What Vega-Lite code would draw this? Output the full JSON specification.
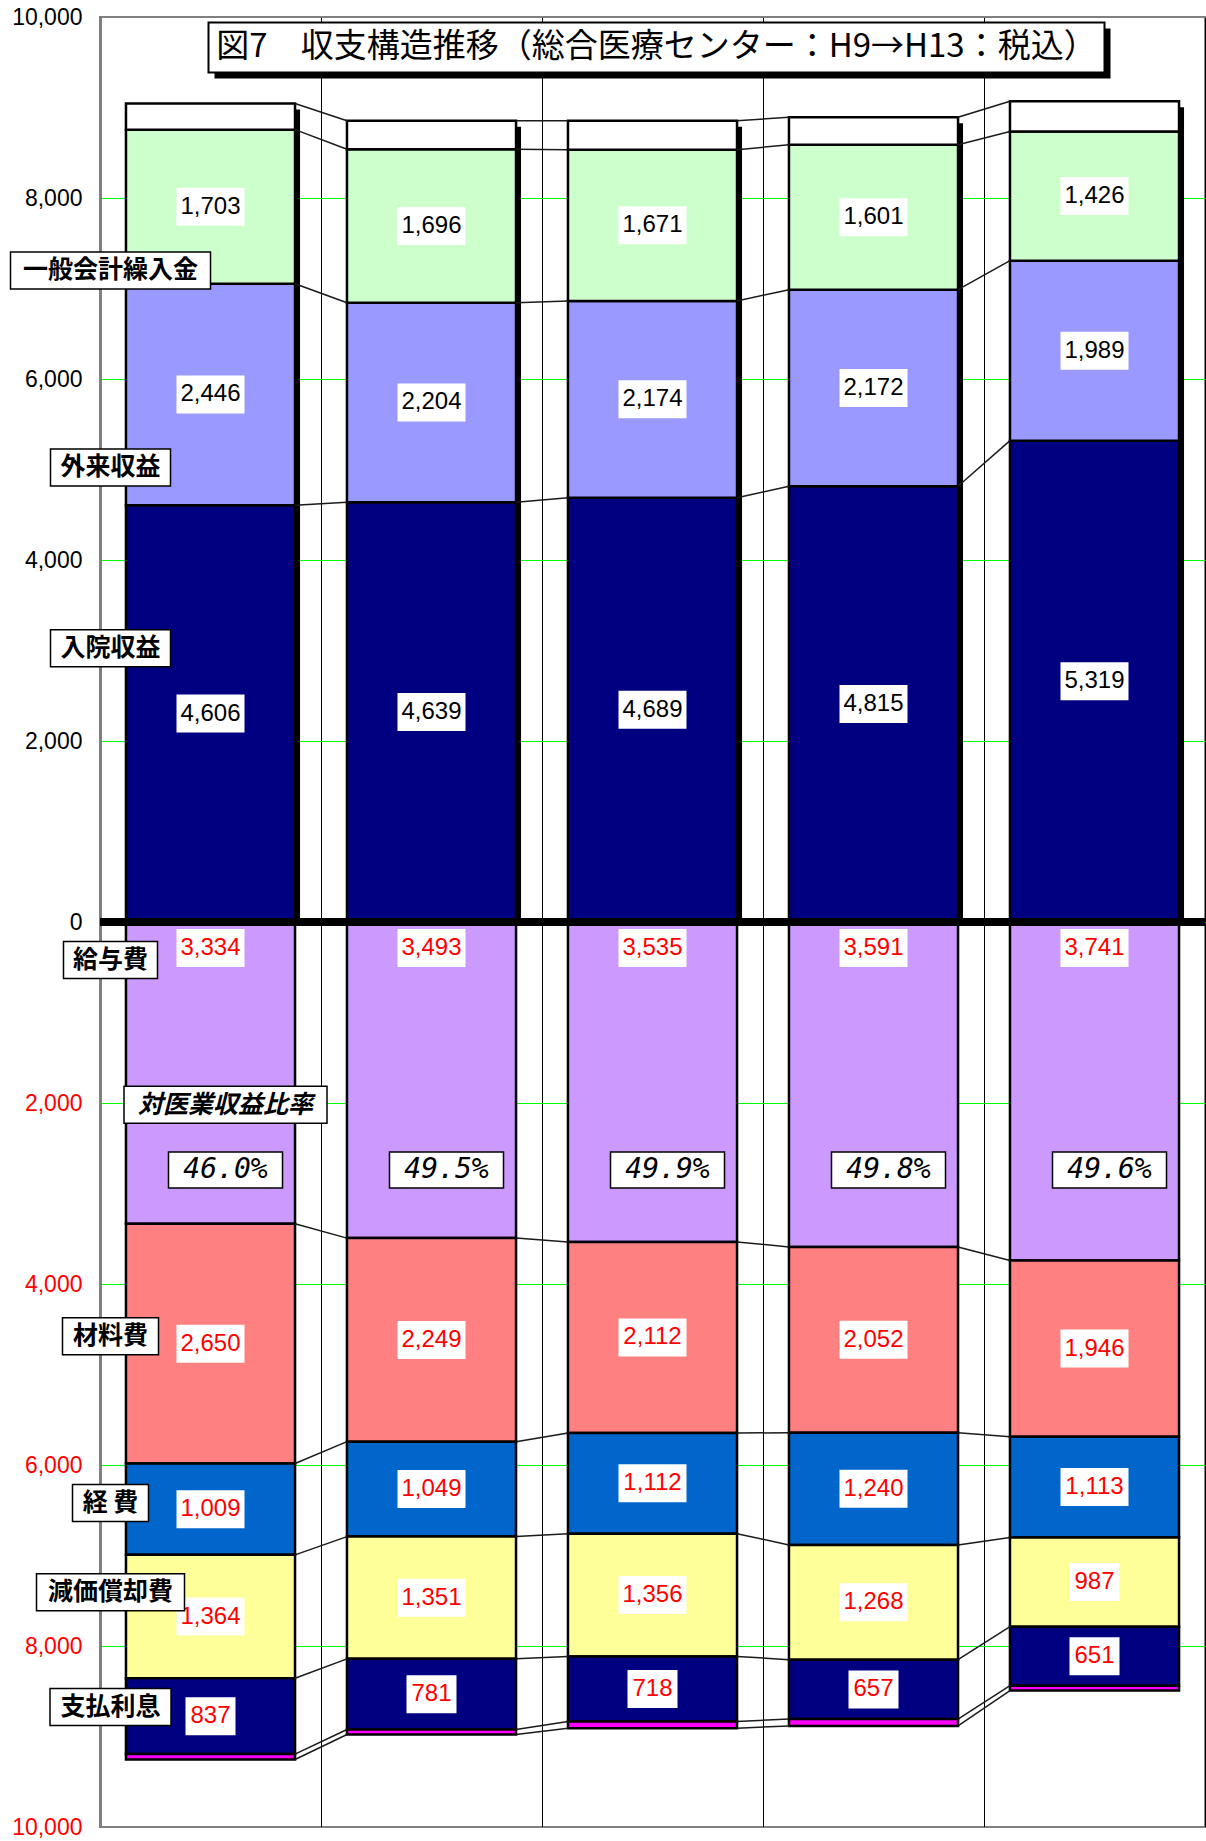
{
  "$schema": "https://vega.github.io/schema/vega-lite/v6.json",
  "width": 1105,
  "height": 1810,
  "autosize": {"type": "none"},
  "padding": {"left": 100, "top": 17, "right": 1, "bottom": 14},
  "background": "white",
  "config": {"view": {"stroke": "#808080", "strokeWidth": 2}},
  "datasets": {
    "inc": [
      {"yr": 9, "cat": "入院収益", "idx": 1, "value": 4606},
      {"yr": 10, "cat": "入院収益", "idx": 1, "value": 4639},
      {"yr": 11, "cat": "入院収益", "idx": 1, "value": 4689},
      {"yr": 12, "cat": "入院収益", "idx": 1, "value": 4815},
      {"yr": 13, "cat": "入院収益", "idx": 1, "value": 5319},
      {"yr": 9, "cat": "外来収益", "idx": 2, "value": 2446},
      {"yr": 10, "cat": "外来収益", "idx": 2, "value": 2204},
      {"yr": 11, "cat": "外来収益", "idx": 2, "value": 2174},
      {"yr": 12, "cat": "外来収益", "idx": 2, "value": 2172},
      {"yr": 13, "cat": "外来収益", "idx": 2, "value": 1989},
      {"yr": 9, "cat": "一般会計繰入金", "idx": 3, "value": 1703},
      {"yr": 10, "cat": "一般会計繰入金", "idx": 3, "value": 1696},
      {"yr": 11, "cat": "一般会計繰入金", "idx": 3, "value": 1671},
      {"yr": 12, "cat": "一般会計繰入金", "idx": 3, "value": 1601},
      {"yr": 13, "cat": "一般会計繰入金", "idx": 3, "value": 1426},
      {"yr": 9, "cat": "その他収益", "idx": 4, "value": 290},
      {"yr": 10, "cat": "その他収益", "idx": 4, "value": 315},
      {"yr": 11, "cat": "その他収益", "idx": 4, "value": 320},
      {"yr": 12, "cat": "その他収益", "idx": 4, "value": 305},
      {"yr": 13, "cat": "その他収益", "idx": 4, "value": 335}
    ],
    "exp": [
      {"yr": 9, "cat": "給与費", "idx": 1, "value": 3334},
      {"yr": 10, "cat": "給与費", "idx": 1, "value": 3493},
      {"yr": 11, "cat": "給与費", "idx": 1, "value": 3535},
      {"yr": 12, "cat": "給与費", "idx": 1, "value": 3591},
      {"yr": 13, "cat": "給与費", "idx": 1, "value": 3741},
      {"yr": 9, "cat": "材料費", "idx": 2, "value": 2650},
      {"yr": 10, "cat": "材料費", "idx": 2, "value": 2249},
      {"yr": 11, "cat": "材料費", "idx": 2, "value": 2112},
      {"yr": 12, "cat": "材料費", "idx": 2, "value": 2052},
      {"yr": 13, "cat": "材料費", "idx": 2, "value": 1946},
      {"yr": 9, "cat": "経費", "idx": 3, "value": 1009},
      {"yr": 10, "cat": "経費", "idx": 3, "value": 1049},
      {"yr": 11, "cat": "経費", "idx": 3, "value": 1112},
      {"yr": 12, "cat": "経費", "idx": 3, "value": 1240},
      {"yr": 13, "cat": "経費", "idx": 3, "value": 1113},
      {"yr": 9, "cat": "減価償却費", "idx": 4, "value": 1364},
      {"yr": 10, "cat": "減価償却費", "idx": 4, "value": 1351},
      {"yr": 11, "cat": "減価償却費", "idx": 4, "value": 1356},
      {"yr": 12, "cat": "減価償却費", "idx": 4, "value": 1268},
      {"yr": 13, "cat": "減価償却費", "idx": 4, "value": 987},
      {"yr": 9, "cat": "支払利息", "idx": 5, "value": 837},
      {"yr": 10, "cat": "支払利息", "idx": 5, "value": 781},
      {"yr": 11, "cat": "支払利息", "idx": 5, "value": 718},
      {"yr": 12, "cat": "支払利息", "idx": 5, "value": 657},
      {"yr": 13, "cat": "支払利息", "idx": 5, "value": 651},
      {"yr": 9, "cat": "その他費用", "idx": 6, "value": 60},
      {"yr": 10, "cat": "その他費用", "idx": 6, "value": 55},
      {"yr": 11, "cat": "その他費用", "idx": 6, "value": 75},
      {"yr": 12, "cat": "その他費用", "idx": 6, "value": 75},
      {"yr": 13, "cat": "その他費用", "idx": 6, "value": 55}
    ],
    "ratio": [
      {"yr": 9, "ratio": 0.46},
      {"yr": 10, "ratio": 0.495},
      {"yr": 11, "ratio": 0.499},
      {"yr": 12, "ratio": 0.498},
      {"yr": 13, "ratio": 0.496}
    ],
    "ann": [
      {"label": "一般会計繰入金", "pos": 7199},
      {"label": "外来収益", "pos": 5023},
      {"label": "入院収益", "pos": 3025},
      {"label": "給与費", "pos": -420},
      {"label": "材料費", "pos": -4578},
      {"label": "経 費", "pos": -6420},
      {"label": "減価償却費", "pos": -7406},
      {"label": "支払利息", "pos": -8674}
    ]
  },
  "resolve": {"scale": {"y": "independent"}},
  "layer": [
    {
      "data": {"name": "inc"},
      "transform": [
        {"stack": "value", "groupby": ["yr"], "sort": [{"field": "idx", "order": "ascending"}], "as": ["v0", "v1"]}
      ],
      "layer": [
        {
          "transform": [{"aggregate": [{"op": "max", "field": "v1", "as": "top"}], "groupby": ["yr"]}],
          "mark": {"type": "bar", "color": "black", "width": {"band": 0.765}, "xOffset": 5, "yOffset": 6},
          "encoding": {
            "x": {
              "field": "yr", "type": "ordinal",
              "scale": {"paddingInner": 0, "paddingOuter": 0},
              "axis": {"labels": false, "ticks": false, "title": null, "domain": false, "grid": true, "gridColor": "#000000", "gridWidth": 1, "tickBand": "extent"}
            },
            "y": {
              "field": "top", "type": "quantitative",
              "scale": {"domain": [-10000, 10000], "nice": false, "zero": false},
              "axis": {
                "values": [-10000, -8000, -6000, -4000, -2000, 0, 2000, 4000, 6000, 8000, 10000],
                "labelExpr": "format(abs(datum.value), ',')",
                "labelColor": {"condition": {"test": "datum.value < 0", "value": "#FF0000"}, "value": "#000000"},
                "labelFont": "Liberation Sans",
                "labelFontSize": 23,
                "labelPadding": 18,
                "labelOverlap": false,
                "ticks": false,
                "title": null,
                "domainColor": "#808080",
                "domainWidth": 3,
                "grid": true,
                "gridColor": {"condition": {"test": "abs(datum.value) >= 10000", "value": "#808080"}, "value": "#00FF00"},
                "gridWidth": 1
              }
            },
            "y2": {"datum": 0}
          }
        },
        {
          "mark": {"type": "bar", "width": {"band": 0.765}, "stroke": "black", "strokeWidth": 2.5},
          "encoding": {
            "x": {"field": "yr", "type": "ordinal"},
            "y": {"field": "v1", "type": "quantitative"},
            "y2": {"field": "v0"},
            "color": {
              "field": "cat", "type": "nominal", "legend": null,
              "scale": {
                "domain": ["入院収益", "外来収益", "一般会計繰入金", "その他収益", "給与費", "材料費", "経費", "減価償却費", "支払利息", "その他費用"],
                "range": ["#000080", "#9999FF", "#CCFFCC", "#FFFFFF", "#CC99FF", "#FF8080", "#0066CC", "#FFFF99", "#000080", "#FF00FF"]
              }
            }
          }
        },
        {
          "transform": [
            {"window": [{"op": "lead", "field": "yr", "as": "nyr"}, {"op": "lead", "field": "v1", "as": "nv1"}], "groupby": ["cat"], "sort": [{"field": "yr", "order": "ascending"}]},
            {"filter": "datum.nyr != null"}
          ],
          "mark": {"type": "rule", "color": "#1a1a1a", "strokeWidth": 1.5, "xOffset": 84.5, "x2Offset": -84.5},
          "encoding": {
            "x": {"field": "yr", "type": "ordinal"},
            "x2": {"field": "nyr"},
            "y": {"field": "v1", "type": "quantitative"},
            "y2": {"field": "nv1"}
          }
        },
        {
          "transform": [
            {"fold": ["v0", "v1"], "as": ["k", "vv"]},
            {"aggregate": [{"op": "mean", "field": "vv", "as": "mid"}], "groupby": ["yr", "cat", "value"]},
            {"filter": "datum.cat != 'その他収益'"}
          ],
          "layer": [
            {
              "mark": {"type": "point", "filled": true, "fill": "white", "opacity": 1, "strokeWidth": 0, "size": 10000},
              "encoding": {
                "x": {"field": "yr", "type": "ordinal"},
                "y": {"field": "mid", "type": "quantitative"},
                "shape": {"condition": {"test": "datum.value >= 1000", "value": "M-0.68,-0.38H0.68V0.38H-0.68Z"}, "value": "M-0.5,-0.38H0.5V0.38H-0.5Z"}
              }
            },
            {
              "mark": {"type": "text", "font": "Liberation Sans", "fontSize": 24, "color": "black", "baseline": "middle", "align": "center"},
              "encoding": {
                "x": {"field": "yr", "type": "ordinal"},
                "y": {"field": "mid", "type": "quantitative"},
                "text": {"field": "value", "type": "quantitative", "format": ","}
              }
            }
          ]
        }
      ]
    },
    {
      "data": {"name": "exp"},
      "transform": [
        {"stack": "value", "groupby": ["yr"], "sort": [{"field": "idx", "order": "ascending"}], "as": ["v0", "v1"]}
      ],
      "layer": [
        {
          "mark": {"type": "bar", "width": {"band": 0.765}, "stroke": "black", "strokeWidth": 2.5},
          "encoding": {
            "x": {"field": "yr", "type": "ordinal"},
            "y": {"field": "v1", "type": "quantitative", "scale": {"domain": [-10000, 10000], "nice": false, "zero": false, "reverse": true}, "axis": null},
            "y2": {"field": "v0"},
            "color": {"field": "cat", "type": "nominal", "legend": null}
          }
        },
        {
          "transform": [
            {"window": [{"op": "lead", "field": "yr", "as": "nyr"}, {"op": "lead", "field": "v1", "as": "nv1"}], "groupby": ["cat"], "sort": [{"field": "yr", "order": "ascending"}]},
            {"filter": "datum.nyr != null"}
          ],
          "mark": {"type": "rule", "color": "#1a1a1a", "strokeWidth": 1.5, "xOffset": 84.5, "x2Offset": -84.5},
          "encoding": {
            "x": {"field": "yr", "type": "ordinal"},
            "x2": {"field": "nyr"},
            "y": {"field": "v1", "type": "quantitative"},
            "y2": {"field": "nv1"}
          }
        },
        {
          "transform": [
            {"fold": ["v0", "v1"], "as": ["k", "vv"]},
            {"aggregate": [{"op": "mean", "field": "vv", "as": "mid"}], "groupby": ["yr", "cat", "value"]},
            {"filter": "datum.cat != 'その他費用' && datum.cat != '給与費'"}
          ],
          "layer": [
            {
              "mark": {"type": "point", "filled": true, "fill": "white", "opacity": 1, "strokeWidth": 0, "size": 10000},
              "encoding": {
                "x": {"field": "yr", "type": "ordinal"},
                "y": {"field": "mid", "type": "quantitative"},
                "shape": {"condition": {"test": "datum.value >= 1000", "value": "M-0.68,-0.38H0.68V0.38H-0.68Z"}, "value": "M-0.5,-0.38H0.5V0.38H-0.5Z"}
              }
            },
            {
              "mark": {"type": "text", "font": "Liberation Sans", "fontSize": 24, "color": "#FF0000", "baseline": "middle", "align": "center"},
              "encoding": {
                "x": {"field": "yr", "type": "ordinal"},
                "y": {"field": "mid", "type": "quantitative"},
                "text": {"field": "value", "type": "quantitative", "format": ","}
              }
            }
          ]
        },
        {
          "transform": [{"filter": "datum.cat == '給与費'"}],
          "layer": [
            {
              "mark": {"type": "point", "filled": true, "fill": "white", "opacity": 1, "strokeWidth": 0, "size": 10000, "yOffset": 26, "shape": "M-0.68,-0.38H0.68V0.38H-0.68Z"},
              "encoding": {
                "x": {"field": "yr", "type": "ordinal"},
                "y": {"datum": 0, "type": "quantitative"}
              }
            },
            {
              "mark": {"type": "text", "font": "Liberation Sans", "fontSize": 24, "color": "#FF0000", "baseline": "middle", "align": "center", "yOffset": 26},
              "encoding": {
                "x": {"field": "yr", "type": "ordinal"},
                "y": {"datum": 0, "type": "quantitative"},
                "text": {"field": "value", "type": "quantitative", "format": ","}
              }
            }
          ]
        }
      ]
    },
    {
      "layer": [
        {
          "data": {"values": [{}]},
          "mark": {"type": "rule", "strokeWidth": 8, "color": "black"},
          "encoding": {
            "y": {"datum": 0, "type": "quantitative", "scale": {"domain": [-10000, 10000], "nice": false, "zero": false}, "axis": null}
          }
        },
        {
          "data": {"name": "ann"},
          "mark": {"type": "point", "filled": true, "fill": "white", "stroke": "black", "strokeWidth": 1.5, "opacity": 1, "size": 40000, "xOffset": -100},
          "encoding": {
            "x": {"datum": 9, "type": "ordinal"},
            "y": {"field": "pos", "type": "quantitative"},
            "shape": {
              "field": "label", "type": "nominal", "legend": null,
              "scale": {
                "domain": ["一般会計繰入金", "外来収益", "入院収益", "給与費", "材料費", "経 費", "減価償却費", "支払利息"],
                "range": [
                  "M-1,-0.185H1V0.185H-1Z",
                  "M-0.6,-0.185H0.6V0.185H-0.6Z",
                  "M-0.6,-0.185H0.6V0.185H-0.6Z",
                  "M-0.47,-0.185H0.47V0.185H-0.47Z",
                  "M-0.48,-0.185H0.48V0.185H-0.48Z",
                  "M-0.38,-0.185H0.38V0.185H-0.38Z",
                  "M-0.74,-0.185H0.74V0.185H-0.74Z",
                  "M-0.605,-0.185H0.605V0.185H-0.605Z"
                ]
              }
            }
          }
        },
        {
          "data": {"name": "ann"},
          "mark": {"type": "text", "font": "Noto Sans CJK JP", "fontSize": 25, "fontWeight": "bold", "color": "black", "baseline": "middle", "align": "center", "xOffset": -100},
          "encoding": {
            "x": {"datum": 9, "type": "ordinal"},
            "y": {"field": "pos", "type": "quantitative"},
            "text": {"field": "label", "type": "nominal"}
          }
        },
        {
          "data": {"values": [{}]},
          "mark": {"type": "point", "filled": true, "fill": "white", "stroke": "black", "strokeWidth": 1.5, "opacity": 1, "size": 40000, "xOffset": 15, "shape": "M-1.015,-0.185H1.015V0.185H-1.015Z"},
          "encoding": {
            "x": {"datum": 9, "type": "ordinal"},
            "y": {"datum": -2020, "type": "quantitative"}
          }
        },
        {
          "data": {"values": [{}]},
          "mark": {"type": "text", "text": "対医業収益比率", "font": "Noto Sans CJK JP", "fontSize": 25, "fontStyle": "italic", "fontWeight": "bold", "color": "black", "baseline": "middle", "align": "center", "xOffset": 15},
          "encoding": {
            "x": {"datum": 9, "type": "ordinal"},
            "y": {"datum": -2020, "type": "quantitative"}
          }
        },
        {
          "data": {"name": "ratio"},
          "mark": {"type": "point", "filled": true, "fill": "white", "stroke": "black", "strokeWidth": 1.5, "opacity": 1, "size": 10000, "xOffset": 15, "shape": "M-1.14,-0.36H1.14V0.36H-1.14Z"},
          "encoding": {
            "x": {"field": "yr", "type": "ordinal"},
            "y": {"datum": -2740, "type": "quantitative"}
          }
        },
        {
          "data": {"name": "ratio"},
          "mark": {"type": "text", "font": "DejaVu Sans Mono", "fontSize": 28, "fontStyle": "italic", "color": "black", "baseline": "middle", "align": "center", "xOffset": 15},
          "encoding": {
            "x": {"field": "yr", "type": "ordinal"},
            "y": {"datum": -2740, "type": "quantitative"},
            "text": {"field": "ratio", "type": "quantitative", "format": ".1%"}
          }
        },
        {
          "data": {"values": [{}]},
          "mark": {"type": "point", "filled": true, "fill": "black", "strokeWidth": 0, "opacity": 1, "size": 1000000, "xOffset": 10, "yOffset": 6, "shape": "M-0.896,-0.05H0.896V0.05H-0.896Z"},
          "encoding": {
            "x": {"datum": 11, "type": "ordinal"},
            "y": {"datum": 9663, "type": "quantitative"}
          }
        },
        {
          "data": {"values": [{}]},
          "mark": {"type": "point", "filled": true, "fill": "white", "stroke": "black", "strokeWidth": 2, "opacity": 1, "size": 1000000, "xOffset": 4, "shape": "M-0.896,-0.05H0.896V0.05H-0.896Z"},
          "encoding": {
            "x": {"datum": 11, "type": "ordinal"},
            "y": {"datum": 9663, "type": "quantitative"}
          }
        },
        {
          "data": {"values": [{}]},
          "mark": {"type": "text", "text": "図7　収支構造推移（総合医療センター：H9→H13：税込）", "font": "Noto Sans CJK JP", "fontSize": 33, "color": "black", "baseline": "middle", "align": "center", "xOffset": 4},
          "encoding": {
            "x": {"datum": 11, "type": "ordinal"},
            "y": {"datum": 9663, "type": "quantitative"}
          }
        }
      ]
    }
  ]
}
